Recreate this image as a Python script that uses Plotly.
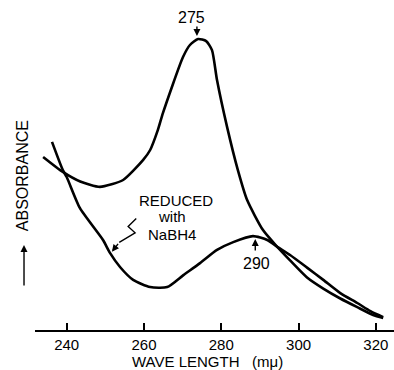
import plotly.graph_objects as go

# Unreduced spectrum (nm, relative absorbance)
wl_native = [233.9, 239.0, 243.5, 248.6, 254.6, 259.8, 261.6, 263.6, 264.9, 270.1, 271.9,
             274.0, 276.1, 277.6, 278.9, 281.5, 284.3, 286.7, 290.8, 294.5, 297.8,
             302.2, 306.4, 310.8, 315.2, 319.3, 321.9]
abs_native = [0.577, 0.527, 0.495, 0.477, 0.500, 0.567, 0.600, 0.667, 0.723, 0.910, 0.950,
              0.970, 0.963, 0.933, 0.833, 0.677, 0.533, 0.433, 0.333, 0.277, 0.232,
              0.175, 0.138, 0.105, 0.076, 0.050, 0.040]

# Reduced with NaBH4
wl_reduced = [236.2, 239.0, 240.0, 243.4, 249.4, 251.2, 253.8, 257.2, 261.6, 266.0, 270.2,
              274.5, 278.9, 283.1, 288.2, 291.9, 294.5, 297.8, 302.2, 306.4, 310.8,
              315.2, 318.6, 321.9]
abs_reduced = [0.627, 0.533, 0.510, 0.407, 0.300, 0.257, 0.210, 0.167, 0.143, 0.143, 0.183,
               0.223, 0.267, 0.293, 0.313, 0.300, 0.277, 0.250, 0.208, 0.167, 0.123,
               0.090, 0.063, 0.043]

tick_vals = [240, 260, 280, 300, 320]
tick_text = ["240", "260", "280", "300", "320"]

FONT = "Liberation Sans"
fig = go.Figure()
for xs, ys in [(wl_native, abs_native), (wl_reduced, abs_reduced)]:
    fig.add_trace(go.Scatter(x=xs, y=ys, mode="lines",
                             line=dict(color="black", width=2.6, shape="spline", smoothing=0.6),
                             showlegend=False, hoverinfo="skip"))

ann = []
txt = dict(showarrow=False, xanchor="center", yanchor="middle",
           font=dict(family=FONT, size=16, color="black"))
lbl = dict(showarrow=False, xanchor="center", yanchor="middle",
           font=dict(family=FONT, size=15, color="black"))
arr = dict(text="", showarrow=True, arrowhead=2, arrowsize=1, arrowwidth=1.4,
           arrowcolor="black")
ann.append(dict(x=272.4, y=1.043, yref="paper", text="275", **txt))
ann.append(dict(x=273.7, y=0.98, ax=0, ay=-11, **arr))
ann.append(dict(x=289.0, y=0.223, text="290", **txt))
ann.append(dict(x=288.8, y=0.303, ax=0, ay=13, **arr))
ann.append(dict(x=268.3, y=0.433, text="REDUCED", **lbl))
ann.append(dict(x=267.3, y=0.377, text="with", **lbl))
ann.append(dict(x=267.3, y=0.32, text="NaBH4", **lbl))
ann.append(dict(x=251.7, y=0.261, axref="x", ayref="y", ax=253.6, ay=0.292, **arr))
ann.append(dict(xref="paper", yref="paper", x=0.48, y=-0.105,
                text="WAVE LENGTH\u00a0\u00a0\u00a0(mμ)", showarrow=False,
                xanchor="center", yanchor="middle",
                font=dict(family=FONT, size=15, color="black")))
ann.append(dict(xref="paper", yref="paper", x=-0.036, y=0.513, text="ABSORBANCE",
                textangle=-90, showarrow=False, xanchor="center", yanchor="middle",
                font=dict(family=FONT, size=16, color="black")))
ann.append(dict(xref="paper", yref="paper", x=-0.0306, y=0.283, ax=0, ay=42, **arr))

fig.add_shape(type="path",
              path="M 258.0,0.372 L 255.9,0.345 L 257.7,0.324 L 253.6,0.292",
              line=dict(color="black", width=1.4), xref="x", yref="y")

fig.update_layout(
    width=394, height=370,
    margin=dict(l=35, r=0, t=30, b=40, autoexpand=False),
    paper_bgcolor="white", plot_bgcolor="white",
    annotations=ann,
    xaxis=dict(range=[231.8, 324.7], showgrid=False, zeroline=False, automargin=False,
               showline=True, linecolor="black", linewidth=2,
               ticks="inside", ticklen=7, tickwidth=2, tickcolor="black",
               tickvals=tick_vals, ticktext=tick_text, ticklabelstandoff=0,
               tickfont=dict(family=FONT, size=15, color="black")),
    yaxis=dict(range=[0, 1], visible=False, automargin=False),
)
fig.write_html("out.html", config={"displayModeBar": False},
               post_script="document.body.style.margin='0';")
